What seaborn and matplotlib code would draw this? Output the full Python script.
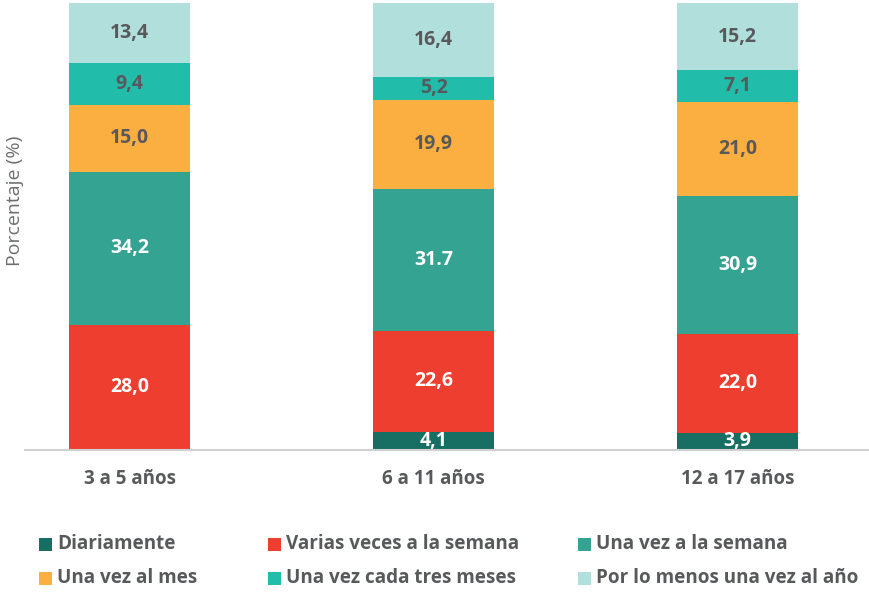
import matplotlib
matplotlib.use("Agg")
import matplotlib.pyplot as plt
import seaborn as sns
import pandas as pd
from matplotlib.patches import Rectangle

# =====================================
# Datos
# =====================================
grupos = ["3 a 5 años", "6 a 11 años", "12 a 17 años"]
series = ["Diariamente", "Varias veces a la semana", "Una vez a la semana",
          "Una vez al mes", "Una vez cada tres meses", "Por lo menos una vez al año"]
diariamente = [0.0, 4.1, 3.9]
varias_semana = [28.0, 22.6, 22.0]
una_semana = [34.2, 31.7, 30.9]
una_mes = [15.0, 19.9, 21.0]
tres_meses = [9.4, 5.2, 7.1]
una_anio = [13.4, 16.4, 15.2]
# etiquetas tal como aparecen (incluye el "31.7" con punto)
etiquetas = [
    ["", "4,1", "3,9"],
    ["28,0", "22,6", "22,0"],
    ["34,2", "31.7", "30,9"],
    ["15,0", "19,9", "21,0"],
    ["9,4", "5,2", "7,1"],
    ["13,4", "16,4", "15,2"],
]

colores = ["#176f63", "#ee3e2f", "#35a391", "#fbaf41", "#22bcaa", "#b1dfdc"]
color_texto = ["white", "white", "white", "#58595b", "#58595b", "#58595b"]
gris = "#58595b"

valores = [diariamente, varias_semana, una_semana, una_mes, tres_meses, una_anio]

# =====================================
# Gráfico
# =====================================
sns.set_style("white")
plt.rcParams['font.family'] = ['Open Sans', 'DejaVu Sans']

fig = plt.figure(figsize=(8.7, 5.92), dpi=100)
ax = fig.add_axes([25 / 870, 142 / 592, 845 / 870, 447 / 592])

base = [0.0, 0.0, 0.0]
for i, nombre in enumerate(series):
    df = pd.DataFrame({"grupo": grupos, "valor": valores[i]})
    sns.barplot(data=df, x="grupo", y="valor", color=colores[i], width=0.4,
                bottom=base, errorbar=None, saturation=1, linewidth=0, ax=ax)
    for j in range(len(grupos)):
        if etiquetas[i][j]:
            ax.text(j, base[j] + valores[i][j] / 2, etiquetas[i][j], ha="center",
                    va="center", fontsize=14, fontweight="bold", color=color_texto[i])
    base = [b + v for b, v in zip(base, valores[i])]

ax.set_xlim(-0.344, 2.436)
ax.set_ylim(0, 100)
ax.set_xlabel("")
ax.set_ylabel("")
ax.set_yticks([])
for s in ["top", "right", "left"]:
    ax.spines[s].set_visible(False)
ax.spines["bottom"].set_color("#d0d0d0")
ax.spines["bottom"].set_linewidth(1.5)
ax.tick_params(axis="x", length=0, pad=14, labelsize=13.5, labelcolor=gris)
for t in ax.get_xticklabels():
    t.set_fontweight("bold")

fig.text(15 / 870, 1 - 201 / 592, "Porcentaje (%)", rotation=90, ha="center",
         va="center", fontsize=14, color="#6d6e71")

# Leyenda manual (2 filas x 3 columnas)
col_x = [39, 268, 578]
fila_y = [544, 578]
for i, nombre in enumerate(series):
    x = col_x[i % 3]
    y = fila_y[i // 3]
    fig.patches.append(Rectangle((x / 870, (592 - y - 6.5) / 592), 13 / 870, 13 / 592,
                                 transform=fig.transFigure, facecolor=colores[i],
                                 edgecolor="none"))
    fig.text((x + 18) / 870, 1 - y / 592, nombre, ha="left", va="center",
             fontsize=13.6, fontweight="bold", color=gris)

plt.savefig("out.png", dpi=100)
